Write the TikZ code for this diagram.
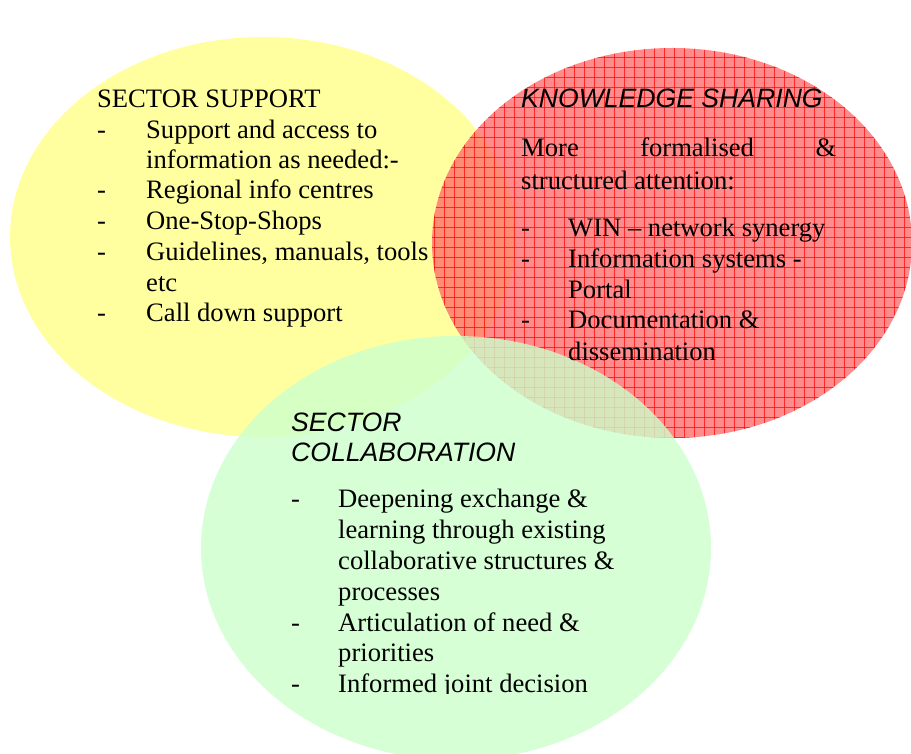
\documentclass[tikz,border=0pt]{standalone}
\usepackage{fontspec}
\setmainfont{Liberation Serif}
\setsansfont{Liberation Sans}
\definecolor{supportfill}{HTML}{FFFFA0}
\definecolor{sharefill}{HTML}{FF6666}
\definecolor{sharegrid}{HTML}{FF0000}
\definecolor{collabfill}{HTML}{CCFFCC}
\begin{document}
\begin{tikzpicture}[x=1pt,y=-1pt,
  bodytext/.style={inner sep=0pt,anchor=base west,font=\fontsize{26.6}{30.7}\selectfont},
  headtext/.style={inner sep=0pt,anchor=base west,font=\fontsize{26.6}{30.7}\selectfont\sffamily\itshape},
  plaintitle/.style={inner sep=0pt,anchor=base west,font=\fontsize{26.6}{30.7}\selectfont}]
\useasboundingbox (0,0) rectangle (911,754);

% Sector support circle
\fill[supportfill] (263,237) ellipse [x radius=253pt, y radius=200pt];

% Knowledge sharing circle with its grid texture
\fill[sharefill,fill opacity=0.75] (672,243) ellipse [x radius=240pt, y radius=195pt];
\begin{scope}
  \clip (672,243) ellipse [x radius=240pt, y radius=195pt];
  \foreach \gx in {434,444,...,914}
    \draw[sharegrid,line width=0.7pt,opacity=0.7] (\gx,40) -- (\gx,450);
  \foreach \gy in {47,57,...,447}
    \draw[sharegrid,line width=0.7pt,opacity=0.7] (425,\gy) -- (920,\gy);
\end{scope}

% Sector collaboration circle
\fill[collabfill,fill opacity=0.8] (456,548) ellipse [x radius=255pt, y radius=212pt];

% Sector support text
\node[plaintitle] (ssTitle) at (97,108) {SECTOR SUPPORT};
\node[bodytext] (ssD1) at (97,139) {-};
\node[bodytext] (ssL1) at (146,139) {Support and access to};
\node[bodytext] (ssL2) at (146,169) {information as needed:-};
\node[bodytext] (ssD2) at (97,199) {-};
\node[bodytext] (ssL3) at (146,199) {Regional info centres};
\node[bodytext] (ssD3) at (97,230) {-};
\node[bodytext] (ssL4) at (146,230) {One-Stop-Shops};
\node[bodytext] (ssD4) at (97,261) {-};
\node[bodytext] (ssL5) at (146,261) {Guidelines, manuals, tools};
\node[bodytext] (ssL6) at (146,292) {etc};
\node[bodytext] (ssD5) at (97,322) {-};
\node[bodytext] (ssL7) at (146,322) {Call down support};

% Knowledge sharing text
\node[headtext] (ksTitle) at (521,108) {KNOWLEDGE SHARING};
\node[bodytext] (ksP1) at (521,157) {\hbox to 315pt{More\hfill formalised\hfill\&}};
\node[bodytext] (ksP2) at (521,190) {structured attention:};
\node[bodytext] (ksD1) at (521,237) {-};
\node[bodytext] (ksL1) at (568,237) {WIN – network synergy};
\node[bodytext] (ksD2) at (521,268) {-};
\node[bodytext] (ksL2) at (568,268) {Information systems -};
\node[bodytext] (ksL3) at (568,299) {Portal};
\node[bodytext] (ksD3) at (521,329) {-};
\node[bodytext] (ksL4) at (568,329) {Documentation \&};
\node[bodytext] (ksL5) at (568,360) {dissemination};

% Sector collaboration text
\node[headtext] (scT1) at (291,431) {SECTOR};
\node[headtext] (scT2) at (291,461) {COLLABORATION};
\node[bodytext] (scD1) at (291,507) {-};
\node[bodytext] (scL1) at (338,507) {Deepening exchange \&};
\node[bodytext] (scL2) at (338,538) {learning through existing};
\node[bodytext] (scL3) at (338,569) {collaborative structures \&};
\node[bodytext] (scL4) at (338,600) {processes};
\node[bodytext] (scD2) at (291,631) {-};
\node[bodytext] (scL5) at (338,631) {Articulation of need \&};
\node[bodytext] (scL6) at (338,661) {priorities};
\node[bodytext] (scD3) at (291,692) {-};
\begin{scope}
  \clip (330,660) rectangle (650,693);
  \node[bodytext] (scL7) at (338,692) {Informed joint decision};
\end{scope}
\end{tikzpicture}
\end{document}
